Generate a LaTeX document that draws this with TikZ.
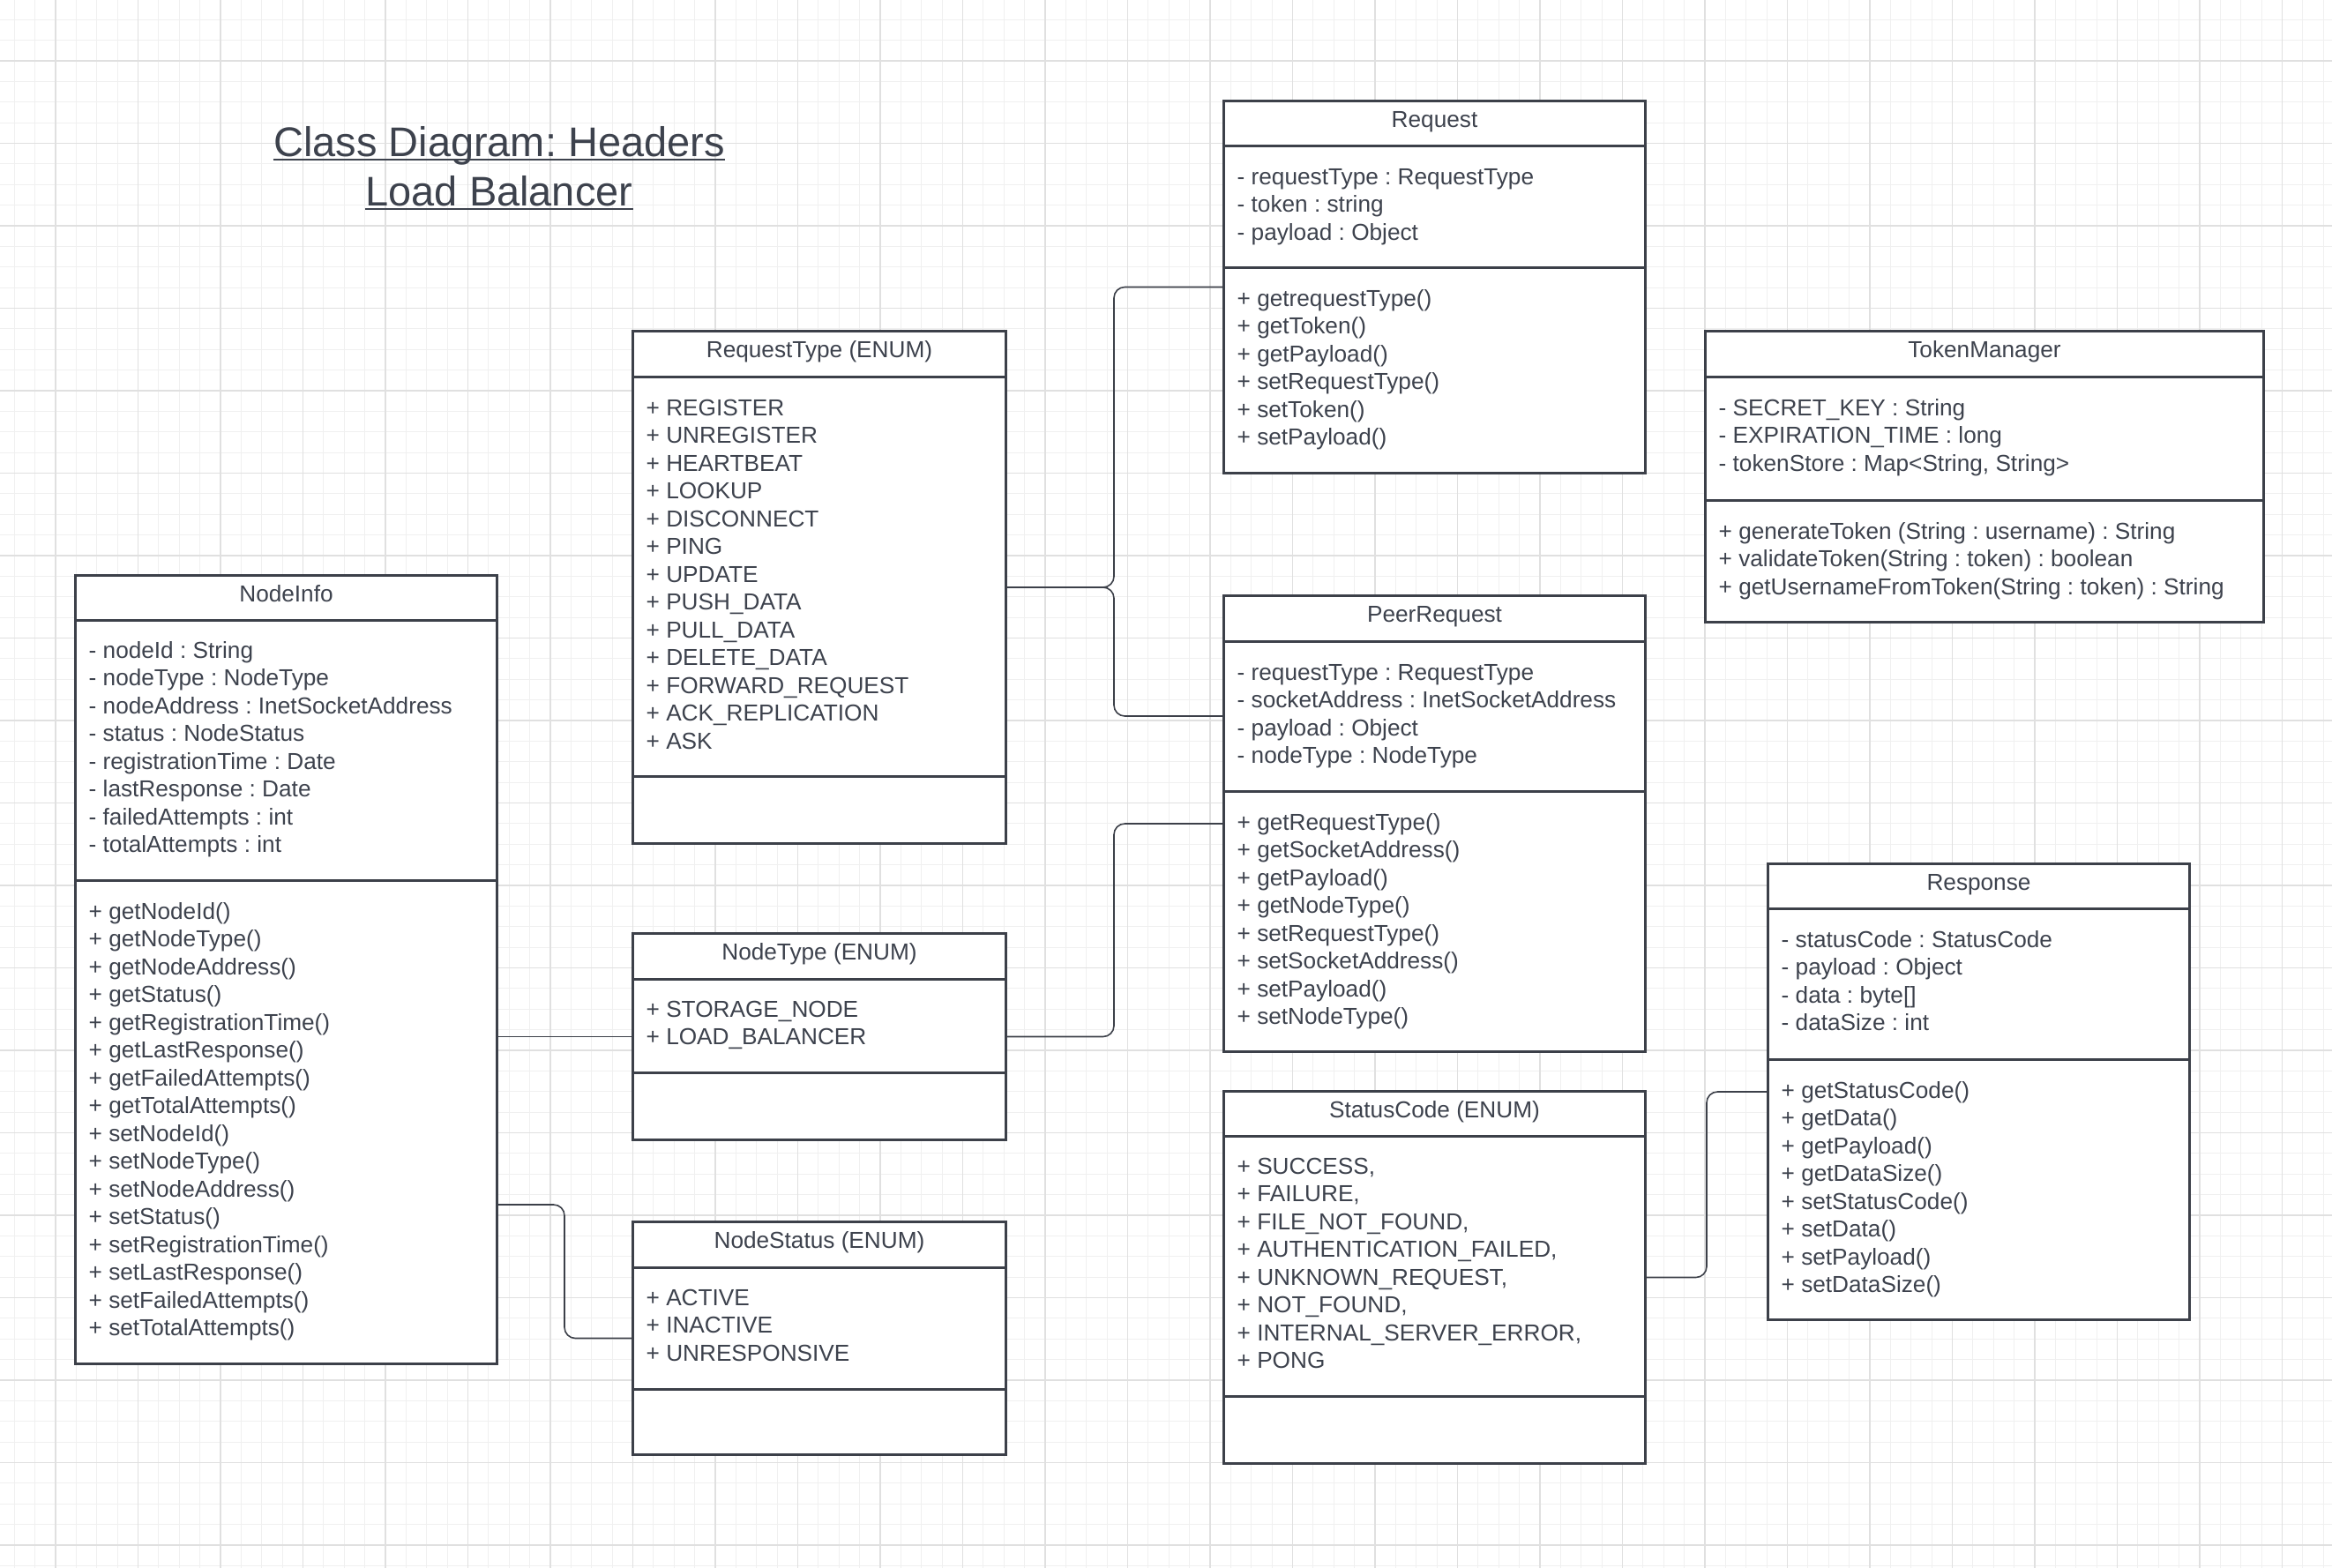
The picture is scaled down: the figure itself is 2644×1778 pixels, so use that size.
\documentclass[tikz,border=0pt]{standalone}
\usepackage{fontspec}
\setmainfont{Liberation Sans}
\usetikzlibrary{calc}
\frenchspacing

\definecolor{umlink}{HTML}{3C4049}
\definecolor{umltext}{HTML}{3D424D}
\definecolor{gridminor}{HTML}{F0F0F0}
\definecolor{gridmajor}{HTML}{E0E0E0}

\newcommand\memberfont{\fontsize{7.45}{9}\selectfont}
\newcommand\headfont{\fontsize{13.35}{16}\selectfont}

\tikzset{
  umlbox/.style={draw=umlink,line width=0.85pt,fill=white,inner sep=0pt},
  umlrule/.style={umlink,line width=0.85pt},
  umltitle/.style={anchor=base,inner sep=0pt,font=\memberfont,text=umltext},
  member/.style={anchor=base west,inner sep=0pt,font=\memberfont,text=umltext},
  assoc/.style={umlink,line width=0.45pt,rounded corners=3.5pt},
  headline/.style={anchor=base,inner sep=0pt,font=\headfont,text=umltext},
}

% header line, divider and class name of one box
\newcommand\umlframe[4]{%
  \draw[umlrule] (#1.west |- 0,#2) -- (#1.east |- 0,#2);
  \draw[umlrule] (#1.west |- 0,#3) -- (#1.east |- 0,#3);
  \node[umltitle] (#1-title) at ($(#1.north)+(0,31)$) {#4};
}
% one line per member
\newcommand\umlmembers[4]{%
  \foreach \txt [count=\i from 0] in {#4}
    \node[member] (#1-\i) at (#2,#3+31.5*\i) {\txt};
}

\begin{document}
\begin{tikzpicture}[x=0.01cm,y=-0.01cm]
\fill[white] (0,0) rectangle (2644,1778);
\useasboundingbox (0,0) rectangle (2644,1778);

% grid
\foreach \gx in {16.25,39.625,...,2644} \draw[gridminor,line width=0.3pt] (\gx,0) -- (\gx,1778);
\foreach \gy in {22.25,45.625,...,1778} \draw[gridminor,line width=0.3pt] (0,\gy) -- (2644,\gy);
\foreach \gx in {63,156.5,...,2644} \draw[gridmajor,line width=0.35pt] (\gx,0) -- (\gx,1778);
\foreach \gy in {69,162.5,...,1778} \draw[gridmajor,line width=0.35pt] (0,\gy) -- (2644,\gy);

% title
\node[headline] (title-1) at (566,177) {Class Diagram: Headers};
\node[headline] (title-2) at (566,233) {Load Balancer};
\draw[umltext,line width=0.75pt] ($(title-1.base west)+(0,4)$) -- ($(title-1.base east)+(0,4)$);
\draw[umltext,line width=0.75pt] ($(title-2.base west)+(0,4)$) -- ($(title-2.base east)+(0,4)$);

% classes
\node[umlbox,minimum width=4.77cm,minimum height=4.21cm] (request) at (1626.5,325.5) {};
\umlframe{request}{165}{303}{Request}
\umlmembers{req-a}{1402}{209}{- requestType : RequestType, - token : string, - payload : Object}
\umlmembers{req-m}{1402}{347}{+ getrequestType(), + getToken(), + getPayload(), + setRequestType(), + setToken(), + setPayload()}

\node[umlbox,minimum width=4.22cm,minimum height=5.80cm] (rtype) at (929,666) {};
\umlframe{rtype}{427}{880}{RequestType (ENUM)}
\umlmembers{rtype-a}{732}{471}{+ REGISTER, + UNREGISTER, + HEARTBEAT, + LOOKUP, + DISCONNECT, + PING, + UPDATE, + PUSH\_DATA, + PULL\_DATA, + DELETE\_DATA, + FORWARD\_REQUEST, + ACK\_REPLICATION, + ASK}

\node[umlbox,minimum width=4.77cm,minimum height=8.93cm] (ninfo) at (324.5,1099.5) {};
\umlframe{ninfo}{703}{998}{NodeInfo}
\umlmembers{ninfo-a}{100}{746}{- nodeId : String, - nodeType : NodeType, - nodeAddress : InetSocketAddress, - status : NodeStatus, - registrationTime : Date, - lastResponse : Date, - failedAttempts : int, - totalAttempts : int}
\umlmembers{ninfo-m}{100}{1042}{+ getNodeId(), + getNodeType(), + getNodeAddress(), + getStatus(), + getRegistrationTime(), + getLastResponse(), + getFailedAttempts(), + getTotalAttempts(), + setNodeId(), + setNodeType(), + setNodeAddress(), + setStatus(), + setRegistrationTime(), + setLastResponse(), + setFailedAttempts(), + setTotalAttempts()}

\node[umlbox,minimum width=4.22cm,minimum height=2.33cm] (ntype) at (929,1175.5) {};
\umlframe{ntype}{1110}{1216}{NodeType (ENUM)}
\umlmembers{ntype-a}{732}{1153}{+ STORAGE\_NODE, + LOAD\_BALANCER}

\node[umlbox,minimum width=4.22cm,minimum height=2.63cm] (nstat) at (929,1517.5) {};
\umlframe{nstat}{1437}{1575}{NodeStatus (ENUM)}
\umlmembers{nstat-a}{732}{1480}{+ ACTIVE, + INACTIVE, + UNRESPONSIVE}

\node[umlbox,minimum width=4.77cm,minimum height=5.16cm] (peer) at (1626.5,934) {};
\umlframe{peer}{727}{897}{PeerRequest}
\umlmembers{peer-a}{1402}{771}{- requestType : RequestType, - socketAddress : InetSocketAddress, - payload : Object, - nodeType : NodeType}
\umlmembers{peer-m}{1402}{941}{+ getRequestType(), + getSocketAddress(), + getPayload(), + getNodeType(), + setRequestType(), + setSocketAddress(), + setPayload(), + setNodeType()}

\node[umlbox,minimum width=6.32cm,minimum height=3.29cm] (token) at (2250,540.5) {};
\umlframe{token}{427}{567}{TokenManager}
\umlmembers{token-a}{1948}{471}{- SECRET\_KEY : String, - EXPIRATION\_TIME : long, {- tokenStore : Map<String, String>}}
\umlmembers{token-m}{1948}{611}{+ generateToken (String : username) : String, + validateToken(String : token) : boolean, + getUsernameFromToken(String : token) : String}

\node[umlbox,minimum width=4.77cm,minimum height=5.16cm] (resp) at (2243.5,1238) {};
\umlframe{resp}{1030}{1201}{Response}
\umlmembers{resp-a}{2019}{1074}{- statusCode : StatusCode, - payload : Object, - data : byte[], - dataSize : int}
\umlmembers{resp-m}{2019}{1245}{+ getStatusCode(), + getData(), + getPayload(), + getDataSize(), + setStatusCode(), + setData(), + setPayload(), + setDataSize()}

\node[umlbox,minimum width=4.77cm,minimum height=4.21cm] (scode) at (1626.5,1448.5) {};
\umlframe{scode}{1288}{1583}{StatusCode (ENUM)}
\umlmembers{scode-a}{1402}{1331}{{+ SUCCESS,}, {+ FAILURE,}, {+ FILE\_NOT\_FOUND,}, {+ AUTHENTICATION\_FAILED,}, {+ UNKNOWN\_REQUEST,}, {+ NOT\_FOUND,}, {+ INTERNAL\_SERVER\_ERROR,}, + PONG}

% connectors
\draw[assoc] (rtype.east) -- (rtype.east -| 1263,0) |- (request.west);
\draw[assoc] (rtype.east) -- (rtype.east -| 1263,0) |- (peer.west |- 0,812);
\draw[assoc] (ntype.east) -- (ntype.east -| 1263,0) |- (peer.west);
\draw[assoc] (ninfo.east |- ntype.west) -- (ntype.west);
\draw[assoc] (ninfo.east |- 0,1366) -- (640,1366) |- (nstat.west);
\draw[assoc] (scode.east) -- (scode.east -| 1935,0) |- (resp.west);
\end{tikzpicture}
\end{document}
